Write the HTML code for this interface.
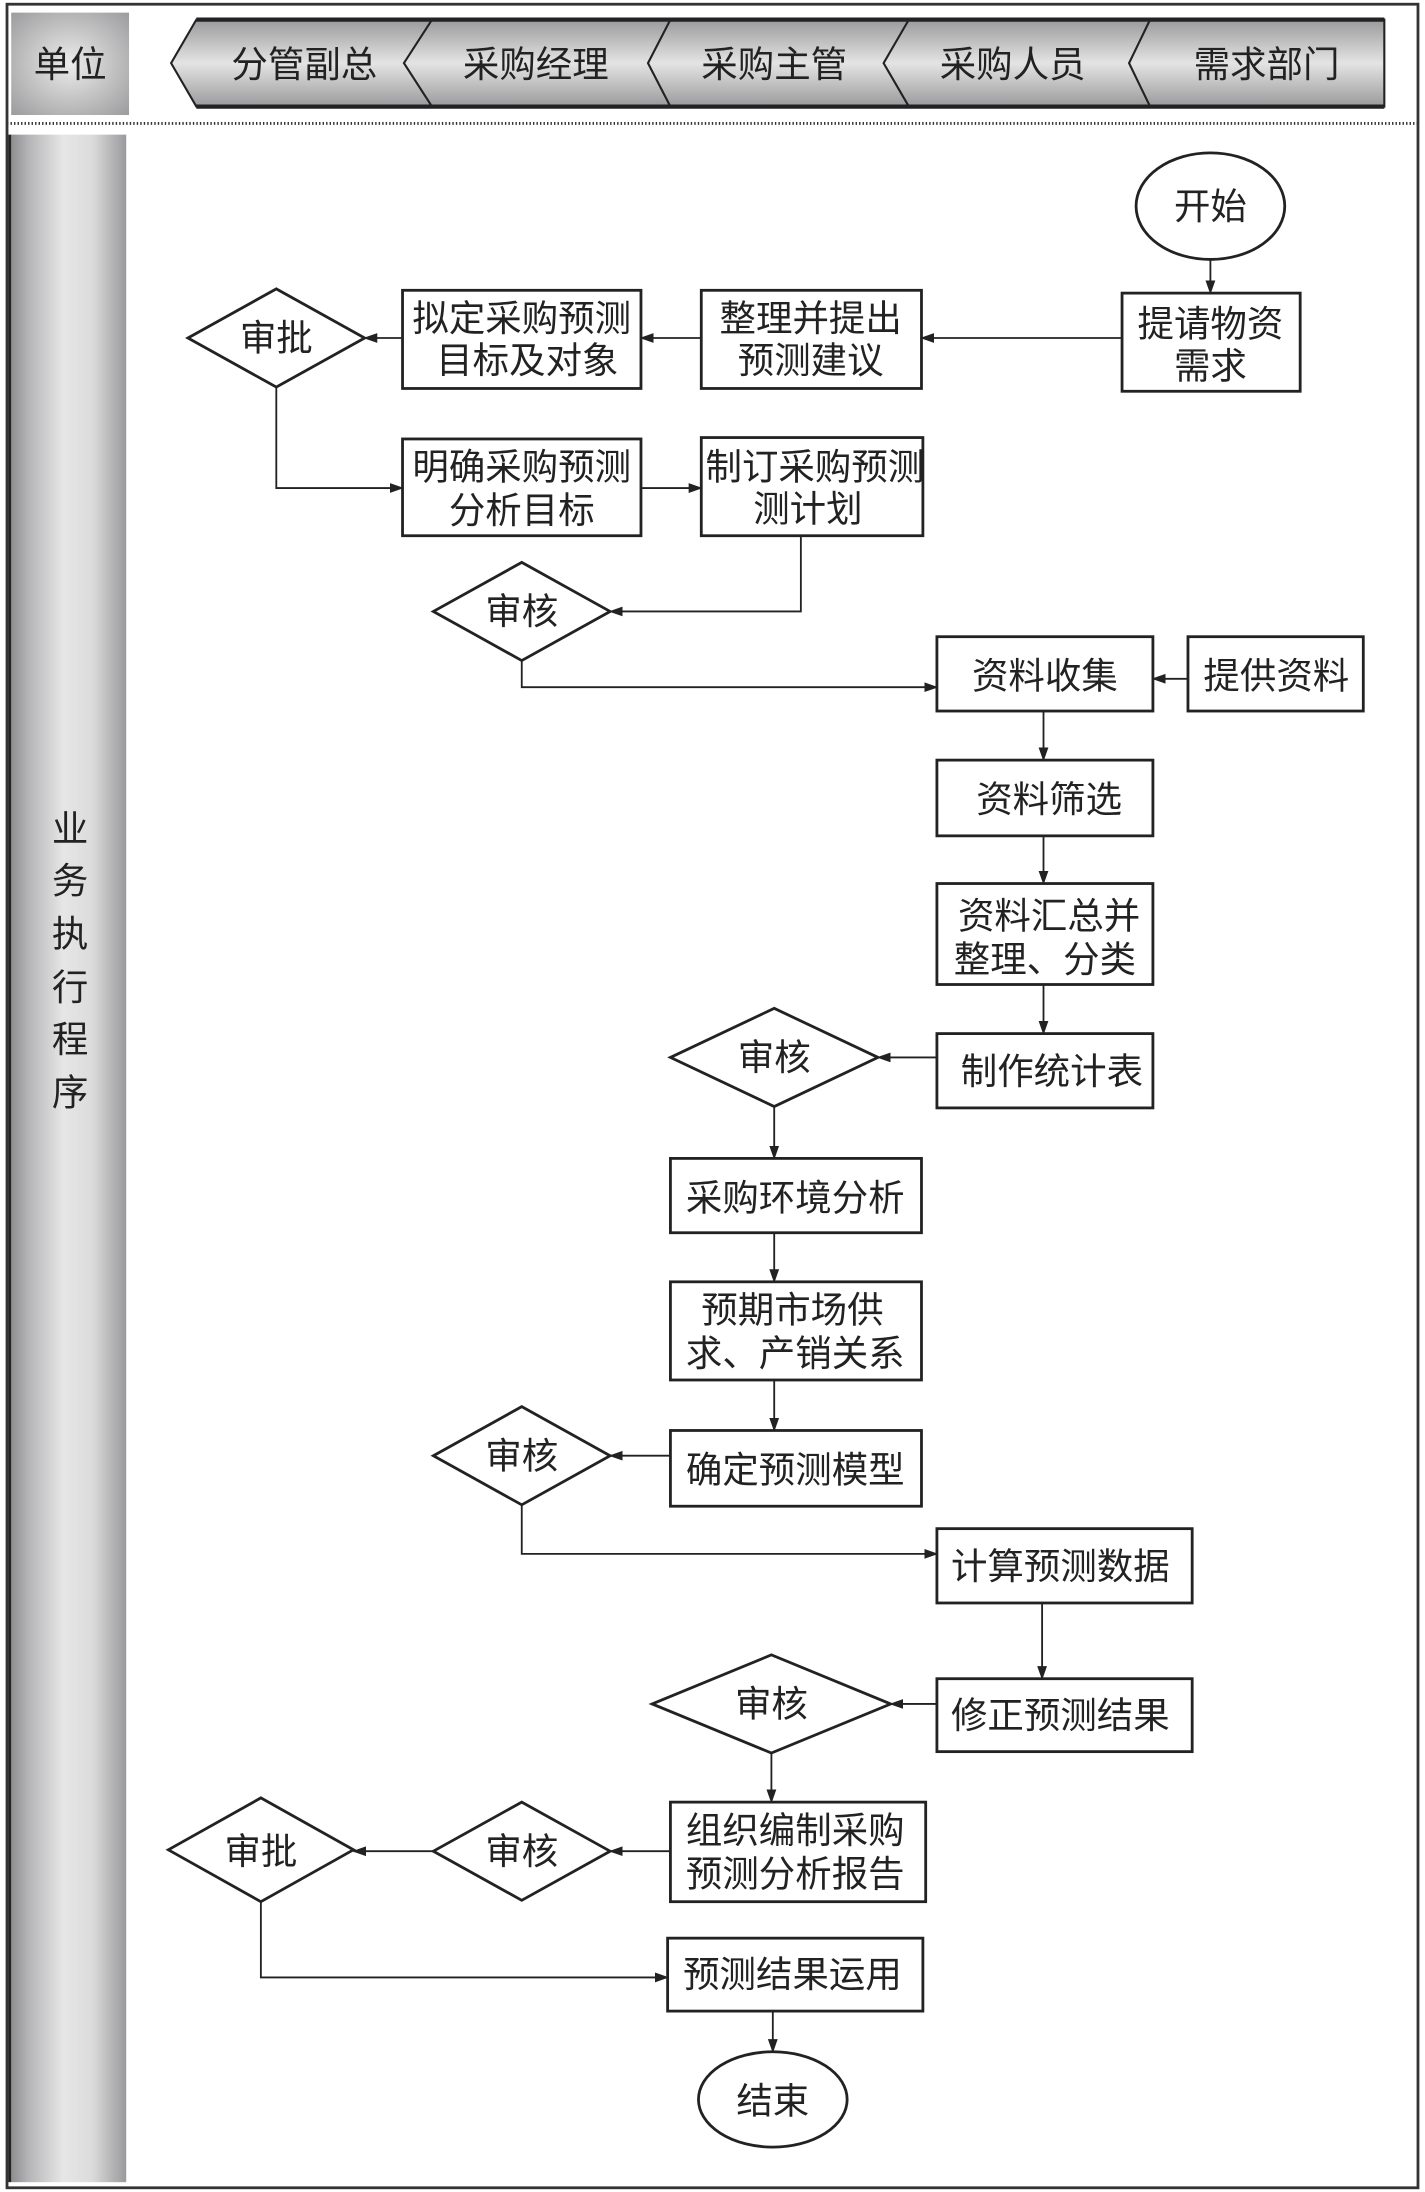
<!DOCTYPE html>
<html><head><meta charset="utf-8"><style>
html,body{margin:0;padding:0;background:#fff;}
svg{display:block;}
text{font-family:"Liberation Sans","Noto Sans CJK SC",sans-serif;fill:#222;font-size:26px;text-anchor:middle;}
</style></head><body>
<svg width="1425" height="2192" viewBox="0 0 1016 1563" preserveAspectRatio="none" xmlns="http://www.w3.org/2000/svg">
<defs>
<linearGradient id="hg" x1="0" y1="0" x2="0" y2="1">
<stop offset="0" stop-color="#9a9a9c"/><stop offset="0.5" stop-color="#e4e4e4"/><stop offset="1" stop-color="#9a9a9c"/></linearGradient>
<radialGradient id="ug" cx="0.5" cy="0.5" r="0.7"><stop offset="0" stop-color="#ececec"/><stop offset="1" stop-color="#9c9c9e"/></radialGradient>
<linearGradient id="sg" x1="0" y1="0" x2="1" y2="0">
<stop offset="0" stop-color="#8e8e90"/><stop offset="0.15" stop-color="#b5b5b7"/><stop offset="0.45" stop-color="#e6e6e6"/><stop offset="0.7" stop-color="#dcdcdc"/><stop offset="0.9" stop-color="#b0b0b2"/><stop offset="1" stop-color="#9a9a9c"/></linearGradient>
<marker id="a" markerWidth="10" markerHeight="8" refX="9" refY="4" orient="auto" markerUnits="userSpaceOnUse"><path d="M0,0.5 L10,4 L0,7.5 Z" fill="#222"/></marker>
</defs>
<rect x="5" y="3" width="1006" height="1557" fill="none" stroke="#333" stroke-width="2"/>
<rect x="8" y="9" width="84" height="73" fill="url(#ug)"/>
<text x="50" y="55">单位</text>
<polygon points="140,14 987,14 987,76 140,76 122,45" fill="url(#hg)" stroke="#222" stroke-width="1.5"/>
<line x1="140" y1="14" x2="987" y2="14" stroke="#222" stroke-width="3"/>
<line x1="140" y1="76" x2="987" y2="76" stroke="#222" stroke-width="3"/>
<g fill="none" stroke="#222" stroke-width="1.5">
<polyline points="308,14 288,45 308,76"/>
<polyline points="478,14 462,45 478,76"/>
<polyline points="648,14 630,45 648,76"/>
<polyline points="820,14 805,45 820,76"/>
</g>
<text x="217" y="55">分管副总</text>
<text x="382" y="55">采购经理</text>
<text x="552" y="55">采购主管</text>
<text x="722" y="55">采购人员</text>
<text x="903" y="55">需求部门</text>
<line x1="5" y1="88" x2="1011" y2="88" stroke="#333" stroke-width="2" stroke-dasharray="1,1.5"/>
<rect x="8" y="96" width="82" height="1460" fill="url(#sg)"/>
<line x1="7" y1="96" x2="7" y2="1556" stroke="#222" stroke-width="2"/>
<g style="font-size:24px">
<text x="50" y="600">业</text><text x="50" y="637">务</text><text x="50" y="675">执</text><text x="50" y="713">行</text><text x="50" y="750">程</text><text x="50" y="788">序</text>
</g>
<g fill="#fff" stroke="#222" stroke-width="2">
<ellipse cx="863" cy="147" rx="53" ry="38"/>
<rect x="800" y="209" width="127" height="70"/>
<rect x="500" y="207" width="157" height="70"/>
<rect x="287" y="207" width="170" height="70"/>
<polygon points="134,241 197,206 260,241 197,276"/>
<rect x="287" y="313" width="170" height="69"/>
<rect x="500" y="312" width="158" height="70"/>
<polygon points="309,436 372,401 435,436 372,471"/>
<rect x="668" y="454" width="154" height="53"/>
<rect x="847" y="454" width="125" height="53"/>
<rect x="668" y="542" width="154" height="54"/>
<rect x="668" y="630" width="154" height="72"/>
<rect x="668" y="737" width="154" height="53"/>
<polygon points="478,754 552,719 626,754 552,789"/>
<rect x="478" y="826" width="179" height="53"/>
<rect x="478" y="914" width="179" height="70"/>
<rect x="478" y="1020" width="179" height="54"/>
<polygon points="309,1038 372,1003 435,1038 372,1073"/>
<rect x="668" y="1090" width="182" height="53"/>
<rect x="668" y="1197" width="182" height="52"/>
<polygon points="465,1215 550,1180 635,1215 550,1250"/>
<rect x="478" y="1285" width="182" height="71"/>
<polygon points="309,1320 372,1285 435,1320 372,1355"/>
<polygon points="120,1319 186,1282 252,1319 186,1356"/>
<rect x="476" y="1382" width="182" height="52"/>
<ellipse cx="551" cy="1497" rx="53" ry="34"/>
</g>
<g>
<text x="863" y="156">开始</text>
<text x="863" y="240">提请物资</text><text x="863" y="270">需求</text>
<text x="578" y="236">整理并提出</text><text x="578" y="266">预测建议</text>
<text x="372" y="236">拟定采购预测</text><text x="376" y="266">目标及对象</text>
<text x="197" y="250">审批</text>
<text x="372" y="342">明确采购预测</text><text x="372" y="373">分析目标</text>
<text x="581" y="342">制订采购预测</text><text x="576" y="372">测计划</text>
<text x="372" y="445">审核</text>
<text x="745" y="491">资料收集</text>
<text x="910" y="491">提供资料</text>
<text x="748" y="579">资料筛选</text>
<text x="748" y="662">资料汇总并</text><text x="745" y="693">整理、分类</text>
<text x="750" y="773">制作统计表</text>
<text x="552" y="763">审核</text>
<text x="567" y="863">采购环境分析</text>
<text x="565" y="943">预期市场供</text><text x="567" y="974">求、产销关系</text>
<text x="567" y="1057">确定预测模型</text>
<text x="372" y="1047">审核</text>
<text x="756" y="1126">计算预测数据</text>
<text x="756" y="1232">修正预测结果</text>
<text x="550" y="1224">审核</text>
<text x="567" y="1314">组织编制采购</text><text x="567" y="1345">预测分析报告</text>
<text x="372" y="1329">审核</text>
<text x="186" y="1329">审批</text>
<text x="565" y="1417">预测结果运用</text>
<text x="551" y="1507">结束</text>
</g>
<g fill="none" stroke="#222" stroke-width="1.3" marker-end="url(#a)">
<path d="M863,185 V209"/>
<path d="M800,241 H657"/>
<path d="M500,241 H457"/>
<path d="M287,241 H260"/>
<path d="M197,276 V348 H287"/>
<path d="M457,348 H500"/>
<path d="M571,382 V436 H435"/>
<path d="M372,471 V490 H668"/>
<path d="M847,484 H822"/>
<path d="M744,507 V542"/>
<path d="M744,596 V630"/>
<path d="M744,702 V737"/>
<path d="M668,754 H626"/>
<path d="M552,789 V826"/>
<path d="M552,879 V914"/>
<path d="M552,984 V1020"/>
<path d="M478,1038 H435"/>
<path d="M372,1073 V1108 H668"/>
<path d="M743,1143 V1197"/>
<path d="M668,1215 H635"/>
<path d="M550,1250 V1285"/>
<path d="M478,1320 H435"/>
<path d="M309,1320 H252"/>
<path d="M186,1356 V1410 H476"/>
<path d="M551,1434 V1463"/>
</g>
</svg>
</body></html>
